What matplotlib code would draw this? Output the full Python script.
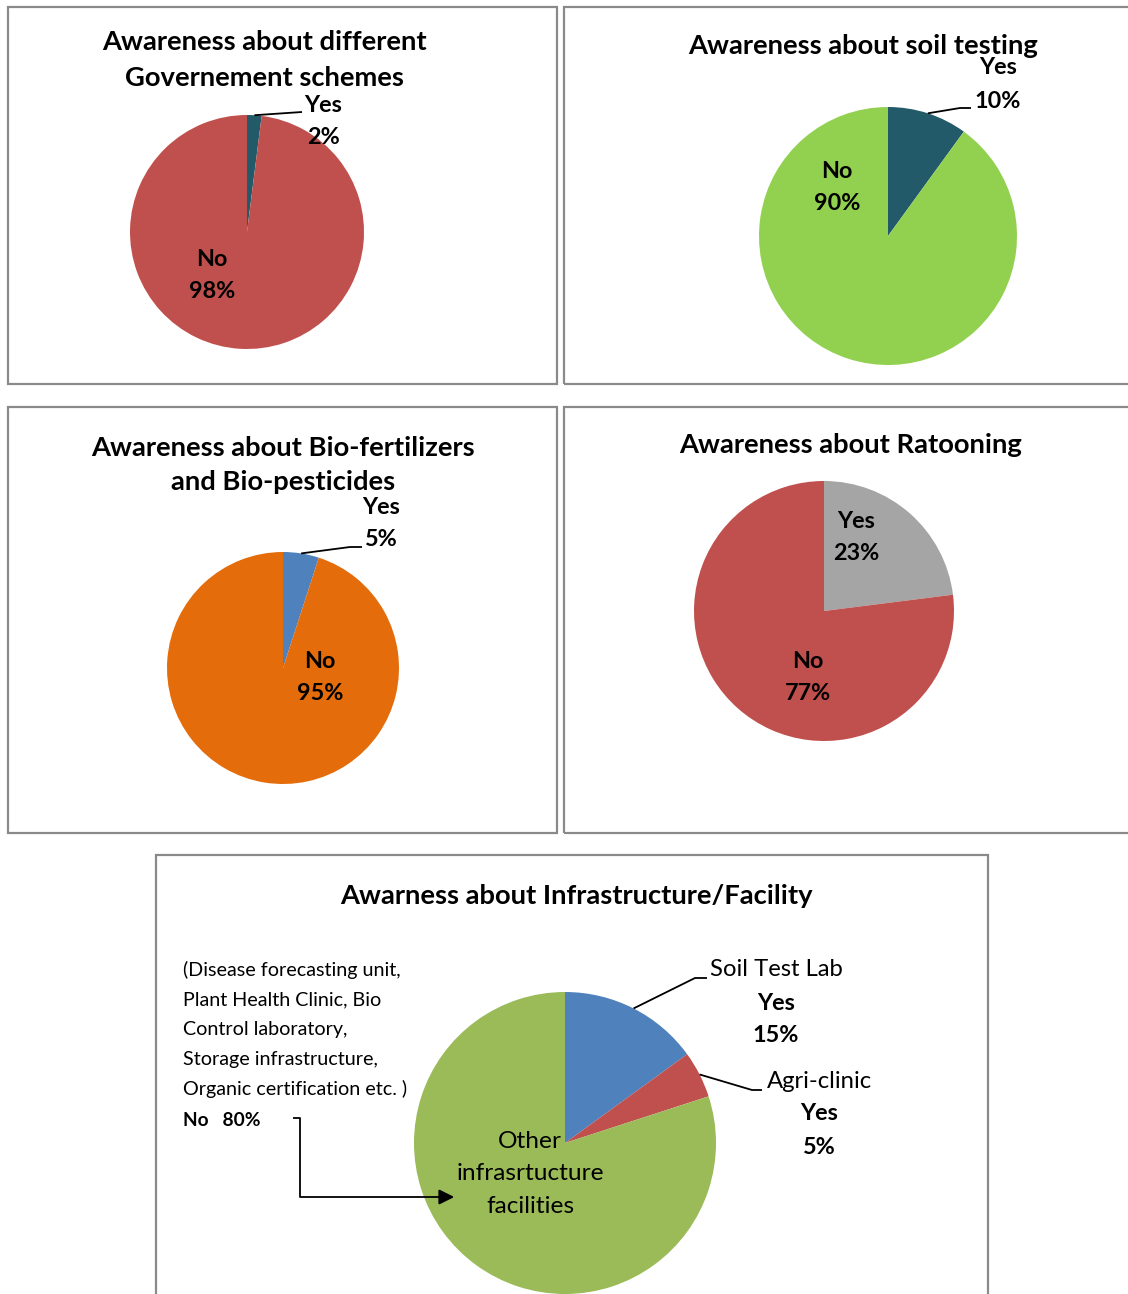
import numpy as np
import matplotlib
matplotlib.use('Agg')
import matplotlib.pyplot as plt
from matplotlib.patches import Rectangle

plt.rcParams['font.family'] = ['Lato', 'DejaVu Sans']

# survey results, percent of respondents
scheme_labels = ['Yes', 'No']
scheme_values = [2, 98]
soil_labels = ['Yes', 'No']
soil_values = [10, 90]
bio_labels = ['Yes', 'No']
bio_values = [5, 95]
ratoon_labels = ['Yes', 'No']
ratoon_values = [23, 77]
infra_labels = ['Soil Test Lab', 'Agri-clinic', 'Other\ninfrasrtucture\nfacilities']
infra_values = [15, 5, 80]

W, H = 1128, 1294
fig = plt.figure(figsize=(W / 100, H / 100), dpi=100)
ax = fig.add_axes([0, 0, 1, 1])

TITLE = 19.7
LABEL = 16.8


def yy(y):
    # page y (top-down) -> axes y
    return H - y


def box(x0, y0, x1, y1):
    ax.add_patch(Rectangle((x0, yy(y1)), x1 - x0, y1 - y0, fill=False,
                           edgecolor='#8a8a8a', linewidth=1.6, zorder=0))


def pie(values, colors, cx, cy, r):
    ax.pie(values, colors=colors, startangle=90, counterclock=False,
           center=(cx, yy(cy)), radius=r, wedgeprops=dict(linewidth=0))


def edge_point(values, idx, cx, cy, r):
    # point on the rim at the middle of slice idx
    start = 90 - 3.6 * sum(values[:idx])
    mid = np.radians(start - 1.8 * values[idx])
    return cx + r * np.cos(mid), cy - r * np.sin(mid)


def txt(x, y, s, size=LABEL, weight='bold', ha='center', spacing=1.25):
    ax.text(x, yy(y), s, fontsize=size, fontweight=weight, ha=ha, va='center',
            color='black', linespacing=spacing)


def leader(points):
    xs = [p[0] for p in points]
    ys = [yy(p[1]) for p in points]
    ax.plot(xs, ys, color='black', lw=1.3, solid_capstyle='butt')


box(8, 7, 557, 384)
box(564, 7, 1140, 384)
box(8, 407, 557, 833)
box(564, 407, 1140, 833)
box(156, 855, 988, 1310)

teal = '#235a69'
red = '#c0504d'

# government schemes
pie(scheme_values, [teal, red], 247, 232, 117)
txt(264, 60, 'Awareness about different\nGovernement schemes', size=TITLE, spacing=1.55)
txt(323, 105, scheme_labels[0])
txt(323, 138, f'{scheme_values[0]}%')
txt(212, 259, scheme_labels[1])
txt(212, 292, f'{scheme_values[1]}%')
leader([edge_point(scheme_values, 0, 247, 232, 117), (302, 112)])

# soil testing
pie(soil_values, [teal, '#92d050'], 888, 236, 129)
txt(863, 46, 'Awareness about soil testing', size=TITLE)
txt(998, 68, soil_labels[0])
txt(998, 101, f'{soil_values[0]}%')
txt(837, 172, soil_labels[1])
txt(837, 204, f'{soil_values[1]}%')
leader([edge_point(soil_values, 0, 888, 236, 129), (960, 108), (971, 108)])

# bio-fertilizers
pie(bio_values, ['#4f81bd', '#e46c0a'], 283, 668, 116)
txt(283, 465, 'Awareness about Bio-fertilizers\nand Bio-pesticides', size=TITLE, spacing=1.55)
txt(381, 508, bio_labels[0])
txt(381, 540, f'{bio_values[0]}%')
txt(320, 661, bio_labels[1])
txt(320, 693, f'{bio_values[1]}%')
leader([edge_point(bio_values, 0, 283, 668, 116), (350, 547), (362, 547)])

# ratooning
pie(ratoon_values, ['#a5a5a5', red], 824, 611, 130)
txt(851, 445, 'Awareness about Ratooning', size=TITLE)
txt(856, 521, ratoon_labels[0])
txt(856, 554, f'{ratoon_values[0]}%')
txt(808, 661, ratoon_labels[1])
txt(808, 693, f'{ratoon_values[1]}%')

# infrastructure / facility
pie(infra_values, ['#4f81bd', red, '#9bbb59'], 565, 1143, 151)
txt(576, 896, 'Awarness about Infrastructure/Facility', size=TITLE)
notes = ['(Disease forecasting unit,', 'Plant Health Clinic, Bio',
         'Control laboratory,', 'Storage infrastructure,',
         'Organic certification etc. )']
for i, line in enumerate(notes):
    txt(183, 970 + i * 29.8, line, size=14.2, weight='normal', ha='left')
txt(183, 1120, f'No   {infra_values[2]}%', size=13.8, ha='left')

txt(776, 970, infra_labels[0], size=17.2, weight='normal')
txt(776, 1003, 'Yes')
txt(776, 1035, f'{infra_values[0]}%')
txt(819, 1081, infra_labels[1], size=17.2, weight='normal')
txt(819, 1114, 'Yes')
txt(819, 1147, f'{infra_values[1]}%')
txt(530, 1174, infra_labels[2], size=17.6, weight='normal', spacing=1.65)

leader([edge_point(infra_values, 0, 565, 1143, 151), (695, 978), (707, 978)])
leader([edge_point(infra_values, 1, 565, 1143, 151), (752, 1090), (762, 1090)])

# elbow arrow from the note to the big slice
leader([(293, 1118), (300, 1118), (300, 1197), (445, 1197)])
ax.annotate('', xy=(457, yy(1197)), xytext=(440, yy(1197)),
            arrowprops=dict(arrowstyle='-|>,head_length=0.9,head_width=0.45',
                            color='black', lw=1.5))

ax.set_xlim(0, W)
ax.set_ylim(0, H)
ax.set_aspect('equal')
ax.axis('off')

fig.savefig('out.png', dpi=100, facecolor='white')
